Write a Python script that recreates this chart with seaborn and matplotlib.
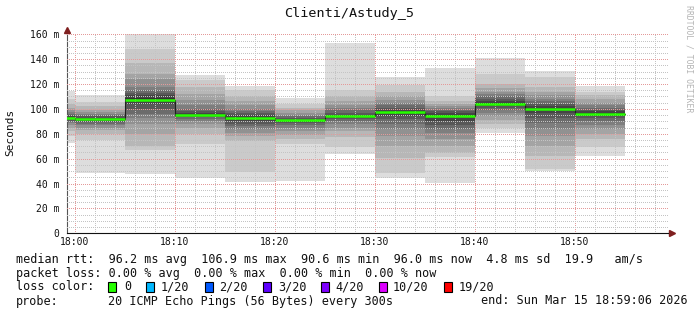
import numpy as np
import pandas as pd
import matplotlib
matplotlib.use("Agg")
import matplotlib.pyplot as plt
from matplotlib.ticker import MultipleLocator
from matplotlib.patches import Rectangle
import seaborn as sns

# ---------------- data ----------------
title = "Clienti/Astudy_5"
y_label = "Seconds"
bar_start_min = [-5, 0, 5, 10, 15, 20, 25, 30, 35, 40, 45, 50]   # minutes after 18:00
bar_len_min = 5

# 20 sorted ping RTTs (ms) for each 5 minute step
p_1755 = [72.9, 78, 82, 85, 87, 88.5, 89.5, 90.5, 91.5, 92, 93, 94, 95, 96, 97.5, 99, 101, 104, 108, 114.6]
p_1800 = [48.7, 75, 80, 83, 85, 87, 88, 89.5, 90.5, 91.5, 92.3, 93, 94, 95, 96, 97.5, 99, 102, 105.8, 111.2]
p_1805 = [48, 67, 70, 80, 88, 93, 96, 100, 104, 106, 108.5, 111, 113, 115, 118, 124, 128, 137, 148, 160]
p_1810 = [44.7, 72, 80, 85, 88, 90, 92, 93.2, 94, 94.8, 95.4, 96.5, 98, 100, 103, 107, 112, 118, 123, 127.3]
p_1815 = [41.5, 49.5, 74.5, 78, 81, 84, 86, 88, 90, 92.2, 93.8, 95, 96.5, 98, 100, 103, 106, 110, 115, 118.4]
p_1820 = [42, 72, 76, 79, 82, 85, 87, 88.5, 89.5, 90.5, 91.2, 92, 93, 94, 95.5, 97, 99, 100.5, 104, 108.5]
p_1825 = [63.5, 69.6, 77.7, 82, 85, 88, 90, 91.5, 93, 94, 94.6, 95.5, 97, 99, 101, 103, 106, 110, 115, 153.3]
p_1830 = [44.7, 48.2, 60.3, 70, 78, 84, 88, 92, 94.5, 96.5, 98, 99.5, 101, 103, 105, 107, 110, 114, 119, 125.6]
p_1835 = [40.7, 61.6, 64.3, 70, 76, 81, 84, 87, 90, 93.5, 95.1, 96.5, 98, 99.5, 101, 102.5, 104, 106, 110, 133]
p_1840 = [80.9, 84.4, 88, 91, 94, 97, 99, 101, 102.5, 103.6, 104.6, 106, 108, 110, 112, 114, 117, 120, 128, 140.7]
p_1845 = [50.1, 51.7, 62, 70, 78, 84, 89, 93, 96.5, 99.5, 100.9, 102, 104, 106, 108, 111, 114, 118, 126, 130.5]
p_1850 = [62.4, 69.6, 75.8, 80, 84, 87, 90, 92.5, 94, 95.3, 96.7, 98, 99.5, 101, 103, 105, 108, 111, 114, 118.4]
pings = [p_1755, p_1800, p_1805, p_1810, p_1815, p_1820, p_1825, p_1830,
         p_1835, p_1840, p_1845, p_1850]

x_ticks = [0, 10, 20, 30, 40, 50]
x_tick_labels = ["18:00", "18:10", "18:20", "18:30", "18:40", "18:50"]
y_ticks = [0, 20, 40, 60, 80, 100, 120, 140, 160]
y_tick_labels = ["0", "20 m", "40 m", "60 m", "80 m", "100 m", "120 m", "140 m", "160 m"]

loss_labels = ["0", "1/20", "2/20", "3/20", "4/20", "10/20", "19/20"]
loss_colors = ["#26ff00", "#00b8ff", "#0059ff", "#5e00ff", "#7e00ff", "#dd00ff", "#ff0000"]

line_rtt = "median rtt:  96.2 ms avg  106.9 ms max  90.6 ms min  96.0 ms now  4.8 ms sd  19.9   am/s"
line_loss = "packet loss: 0.00 % avg  0.00 % max  0.00 % min  0.00 % now"
line_color = "loss color:"
line_probe = "probe:"
probe_text = "20 ICMP Echo Pings (56 Bytes) every 300s"
end_text = "end: Sun Mar 15 18:59:06 2026"
side_text = "RRDTOOL / TOBI OETIKER"

# ---------------- figure ----------------
sns.set_style("white")
plt.rcParams["font.family"] = ["DejaVu Sans Mono", "DejaVu Sans"]

W, H = 697, 315
fig = plt.figure(figsize=(W / 100, H / 100), dpi=100)
fig.patch.set_facecolor("white")
ax_l, ax_r, ax_t, ax_b = 67, 668, 34.3, 233.3
ax = fig.add_axes([ax_l / W, 1 - ax_b / H, (ax_r - ax_l) / W, (ax_b - ax_t) / H])
ax.set_facecolor("white")

# smoke layers
xs = bar_start_min + [bar_start_min[-1] + bar_len_min]
sorted_p = [sorted(p) for p in pings]
n = 20
half = n // 2
for k in range(half):
    lo = [p[k] for p in sorted_p]
    hi = [p[n - 1 - k] for p in sorted_p]
    g = int(190 / half * (half - (k + 1))) + 50
    col = "#%02x%02x%02x" % (g, g, g)
    ax.fill_between(xs, lo + [lo[-1]], hi + [hi[-1]], step="post",
                    color=col, lw=0, zorder=1, antialiased=False)

medians = [(p[half - 1] + p[half]) / 2 for p in sorted_p]
df = pd.DataFrame({"t": xs, "median": medians + [medians[-1]]})
sns.lineplot(data=df, x="t", y="median", drawstyle="steps-post", color="#202020",
             lw=0.8, estimator=None, ax=ax, zorder=2.8)
ax.hlines(medians, bar_start_min, [s + bar_len_min for s in bar_start_min],
          color=loss_colors[0], lw=1.8, zorder=3)

# axes
ax.set_xlim(-0.8, 59.3)
ax.set_ylim(0, 160)
ax.set_xticks(x_ticks)
ax.set_xticklabels(x_tick_labels)
ax.set_yticks(y_ticks)
ax.set_yticklabels(y_tick_labels)
ax.xaxis.set_minor_locator(MultipleLocator(2))
ax.yaxis.set_minor_locator(MultipleLocator(5))
ax.set_xlabel("")
ax.set_ylabel("")
ax.set_axisbelow(False)
dots = (0, (1, 1.6))
ax.grid(which="major", color="#e49a9a", ls=dots, lw=0.72, antialiased=False)
ax.grid(which="minor", color="#c4c4c4", ls=dots, lw=0.72, antialiased=False)
ax.tick_params(axis="both", which="both", direction="out", color="#666666",
               labelsize=7.0, labelcolor="#111111")
ax.tick_params(axis="y", which="major", length=2.2, width=0.7, pad=3.2)
ax.tick_params(axis="y", which="minor", length=1.6, width=0.6)
ax.tick_params(axis="x", which="major", length=2.2, width=0.7, pad=0.8)
ax.tick_params(axis="x", which="minor", length=0)
for s in ["top", "right"]:
    ax.spines[s].set_visible(False)
ax.spines["left"].set_color("#555555")
ax.spines["left"].set_linewidth(0.8)
ax.spines["bottom"].set_color("#111111")
ax.spines["bottom"].set_linewidth(0.8)

# axis arrows
arrow_col = "#7f1f1f"
ax.plot([0, 0], [1, 1.02], transform=ax.transAxes, color="#555555", lw=0.8, clip_on=False)
ax.plot([0], [1.022], marker="^", ms=4.5, color=arrow_col, transform=ax.transAxes, clip_on=False)
ax.plot([1, 1.005], [0, 0], transform=ax.transAxes, color="#111111", lw=0.8, clip_on=False)
ax.plot([1.007], [0], marker=">", ms=4.5, color=arrow_col, transform=ax.transAxes, clip_on=False)

# texts
def fx(px):
    return px / W

def fy(py):
    return 1 - py / H

fig.text(fx(349), fy(13), title, ha="center", va="center", fontsize=9.7, color="#111111")
fig.text(fx(10), fy(132), y_label, rotation=90, ha="center", va="center", fontsize=8, color="#111111")
fig.text(fx(689), fy(5), side_text, rotation=270, ha="center", va="top", fontsize=5.9, color="#b4b4b4")

fs = 8.5
tc = "#111111"
fig.text(fx(16), fy(259), line_rtt, ha="left", va="center", fontsize=fs, color=tc)
fig.text(fx(16), fy(273), line_loss, ha="left", va="center", fontsize=fs, color=tc)
fig.text(fx(16), fy(287), line_color, ha="left", va="center", fontsize=fs, color=tc)
box_x = [108, 146, 205, 263, 321, 379, 444]
lab_x = [124, 161, 219, 278, 335, 393, 459]
for bx, lx, lab, col in zip(box_x, lab_x, loss_labels, loss_colors):
    fig.patches.append(Rectangle((fx(bx), fy(292)), 8 / W, 10 / H, transform=fig.transFigure,
                                 facecolor=col, edgecolor="black", lw=0.8))
    fig.text(fx(lx), fy(287), lab, ha="left", va="center", fontsize=fs, color=tc)
fig.text(fx(16), fy(301), line_probe, ha="left", va="center", fontsize=fs, color=tc)
fig.text(fx(108), fy(301), probe_text, ha="left", va="center", fontsize=fs, color=tc)
fig.text(fx(481), fy(301), end_text, ha="left", va="center", fontsize=fs, color=tc)

fig.savefig("out.png", dpi=100, facecolor="white")
